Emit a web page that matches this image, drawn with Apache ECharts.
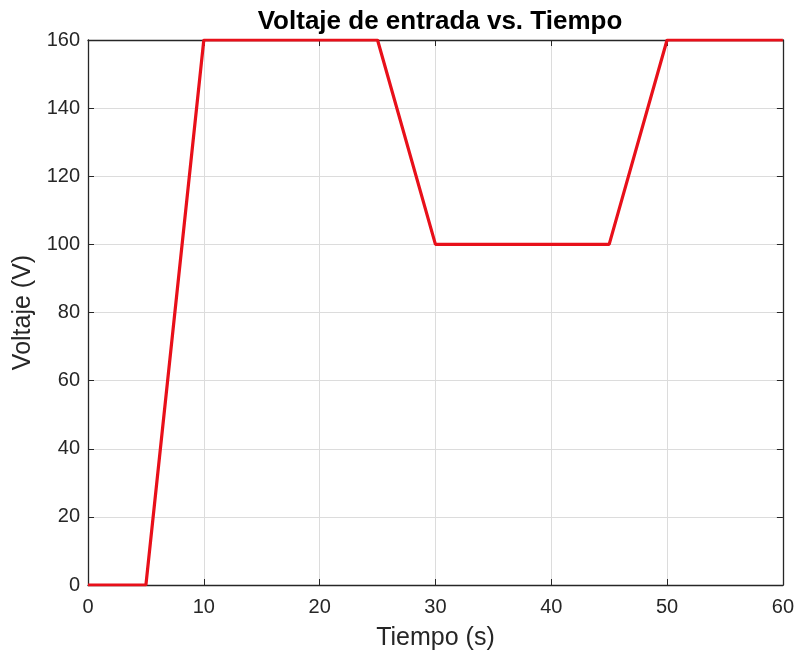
<!DOCTYPE html>
<html>
<head>
<meta charset="utf-8">
<script src="https://cdn.jsdelivr.net/npm/echarts@6/dist/echarts.min.js"></script>
<style>
html,body{margin:0;padding:0;background:#fff;}
#chart{width:797px;height:656px;}
</style>
</head>
<body>
<div id="chart"></div>
<script>
// Input voltage profile: breakpoints of the piecewise-linear signal
const tiempo = [0, 5, 10, 25, 30, 45, 50, 60];
const voltaje = [0, 0, 160, 160, 100, 100, 160, 160];

const xTicks = { min: 0, max: 60, interval: 10 };
const yTicks = { min: 0, max: 160, interval: 20 };

const FONT = '"Liberation Sans", Arial, Helvetica, sans-serif';
const AXIS = '#262626';
const GRID = '#dcdcdc';

const chart = echarts.init(document.getElementById('chart'));

const baseTick = { show: true, inside: true, length: 6, lineStyle: { color: AXIS, width: 1 } };

chart.setOption({
  animation: false,
  backgroundColor: '#ffffff',
  title: {
    text: 'Voltaje de entrada vs. Tiempo',
    left: 435, top: 4, textAlign: 'center',
    textStyle: { fontFamily: FONT, fontSize: 26, fontWeight: 'bold', color: '#000' }
  },
  grid: { left: 88, right: 14, top: 40, bottom: 68, containLabel: false },
  xAxis: [
    {
      type: 'value', min: xTicks.min, max: xTicks.max, interval: xTicks.interval,
      name: 'Tiempo (s)', nameLocation: 'middle', nameGap: 41,
      nameTextStyle: { fontFamily: FONT, fontSize: 25, color: AXIS },
      axisLine: { show: true, onZero: false, lineStyle: { color: AXIS, width: 1.3 } },
      axisTick: baseTick,
      axisLabel: { fontFamily: FONT, fontSize: 20, color: AXIS, margin: 12 },
      splitLine: { show: true, lineStyle: { color: GRID, width: 1 } }
    },
    {
      type: 'value', position: 'top', min: xTicks.min, max: xTicks.max, interval: xTicks.interval,
      axisLine: { show: true, onZero: false, lineStyle: { color: AXIS, width: 1.3 } },
      axisTick: baseTick, axisLabel: { show: false }, splitLine: { show: false }
    }
  ],
  yAxis: [
    {
      type: 'value', min: yTicks.min, max: yTicks.max, interval: yTicks.interval,
      name: 'Voltaje (V)', nameLocation: 'middle', nameGap: 52, nameRotate: 90,
      nameTextStyle: { fontFamily: FONT, fontSize: 25, color: AXIS },
      axisLine: { show: true, onZero: false, lineStyle: { color: AXIS, width: 1.3 } },
      axisTick: baseTick,
      axisLabel: { fontFamily: FONT, fontSize: 20, color: AXIS, margin: 8 },
      splitLine: { show: true, lineStyle: { color: GRID, width: 1 } }
    },
    {
      type: 'value', position: 'right', min: yTicks.min, max: yTicks.max, interval: yTicks.interval,
      axisLine: { show: true, onZero: false, lineStyle: { color: AXIS, width: 1.3 } },
      axisTick: baseTick, axisLabel: { show: false }, splitLine: { show: false }
    }
  ],
  series: [{
    type: 'line',
    xAxisIndex: 0, yAxisIndex: 0,
    data: tiempo.map((t, i) => [t, voltaje[i]]),
    showSymbol: false,
    lineStyle: { color: '#e8101a', width: 3.2 },
    itemStyle: { color: '#e8101a' },
    z: 5
  }]
});
</script>
</body>
</html>
